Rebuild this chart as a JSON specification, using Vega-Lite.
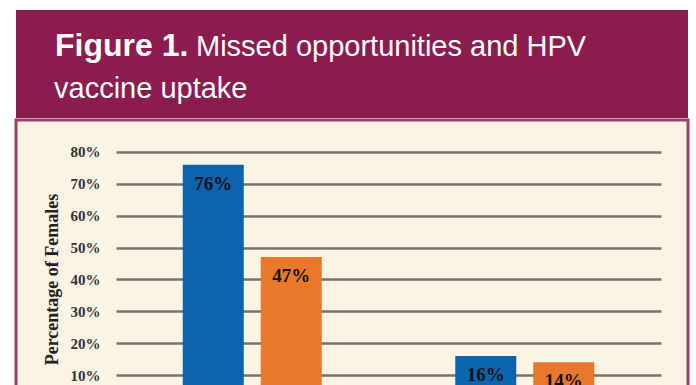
{
  "$schema": "https://vega.github.io/schema/vega-lite/v6.json",
  "background": "white",
  "padding": {"left": 14, "top": 10, "right": 10, "bottom": 0},
  "spacing": 0,
  "config": {"view": {"stroke": null}},
  "vconcat": [
    {
      "width": 672,
      "height": 108,
      "view": {"fill": "#8A1C4E", "stroke": null},
      "data": {"values": [{"a": "Figure 1.", "b": "Missed opportunities and HPV", "c": "vaccine uptake"}]},
      "layer": [
        {"mark": {"type": "text", "x": 39, "y": 46, "align": "left", "baseline": "alphabetic", "font": "Liberation Sans", "fontSize": 32, "fontWeight": "bold", "color": "#FFFFFF"}, "encoding": {"text": {"field": "a"}}},
        {"mark": {"type": "text", "x": 180, "y": 46, "align": "left", "baseline": "alphabetic", "font": "Liberation Sans", "fontSize": 29, "fontWeight": "normal", "color": "#FFFFFF"}, "encoding": {"text": {"field": "b"}}},
        {"mark": {"type": "text", "x": 38, "y": 88, "align": "left", "baseline": "alphabetic", "font": "Liberation Sans", "fontSize": 29, "fontWeight": "normal", "color": "#FFFFFF"}, "encoding": {"text": {"field": "c"}}}
      ]
    },
    {
      "width": 672,
      "height": 287,
      "view": {"fill": "#FBF3E4", "stroke": "#93416B", "strokeWidth": 3},
      "data": {"values": [
        {"group": "Missed opportunity", "series": "Series A", "value": 0.76},
        {"group": "Missed opportunity", "series": "Series B", "value": 0.47},
        {"group": "No missed opportunity", "series": "Series A", "value": 0.16},
        {"group": "No missed opportunity", "series": "Series B", "value": 0.14}
      ]},
      "encoding": {
        "x": {"field": "group", "type": "nominal", "sort": null, "axis": null, "scale": {"range": [100, 645], "paddingInner": 0, "paddingOuter": 0}},
        "xOffset": {"field": "series", "type": "nominal", "sort": null, "scale": {"paddingInner": 0.218, "paddingOuter": 0.856}},
        "y": {
          "field": "value", "type": "quantitative",
          "scale": {"domain": [0, 0.9], "nice": false},
          "axis": {
            "values": [0, 0.1, 0.2, 0.3, 0.4, 0.5, 0.6, 0.7, 0.8],
            "format": ".0%",
            "offset": -100,
            "domain": false,
            "ticks": false,
            "labelPadding": 16,
            "labelFont": "Liberation Serif",
            "labelFontWeight": "bold",
            "labelFontSize": 15,
            "labelColor": "#333333",
            "grid": true,
            "gridColor": "#77726B",
            "gridWidth": 2.5,
            "title": "Percentage of Females",
            "titleFont": "Liberation Serif",
            "titleFontSize": 18,
            "titleFontWeight": "bold",
            "titleColor": "#222222",
            "titlePadding": 9,
            "titleY": 159
          }
        }
      },
      "layer": [
        {"mark": {"type": "bar"}, "encoding": {"color": {"field": "series", "type": "nominal", "sort": null, "scale": {"range": ["#0E63AD", "#E8782C"]}, "legend": null}}},
        {"mark": {"type": "text", "baseline": "middle", "dy": 19, "font": "Liberation Serif", "fontWeight": "bold", "fontSize": 19, "color": "#111111"}, "encoding": {"text": {"field": "value", "type": "quantitative", "format": ".0%"}}}
      ]
    }
  ]
}
